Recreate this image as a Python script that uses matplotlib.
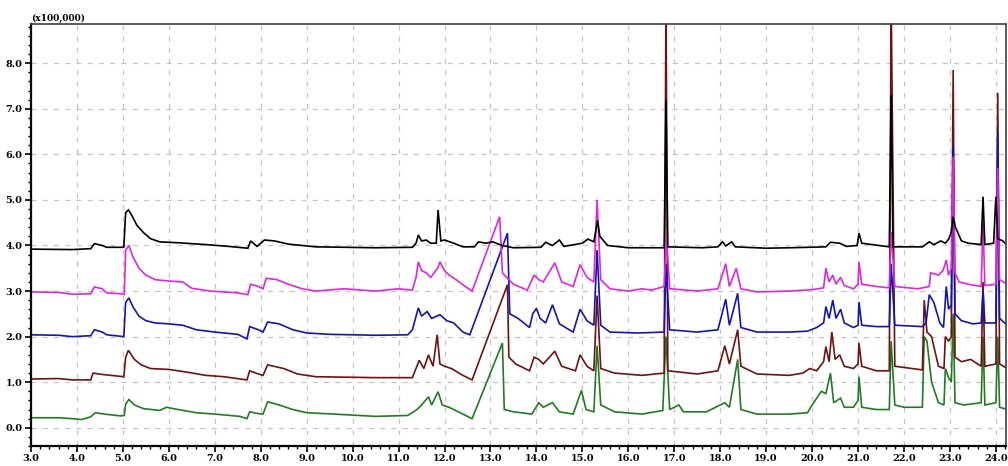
import matplotlib
matplotlib.use("Agg")
import matplotlib.pyplot as plt
from matplotlib.ticker import MultipleLocator

# (retention time [min], intensity [x100,000]) breakpoints
black = [(3.0, 3.92), (3.9, 3.91), (4.3, 3.93), (4.38, 4.04), (4.55, 4.0), (4.65, 3.96), (5.02, 3.96),
         (5.06, 4.72), (5.12, 4.78), (5.2, 4.65), (5.3, 4.45), (5.45, 4.28), (5.6, 4.15), (5.8, 4.08),
         (6.2, 4.06), (6.8, 4.02), (7.3, 3.98), (7.72, 3.94), (7.78, 4.1), (7.92, 3.98), (8.08, 4.12),
         (8.3, 4.1), (8.6, 4.03), (9.2, 3.97), (10.5, 3.95), (11.3, 3.96), (11.38, 4.05), (11.43, 4.23),
         (11.5, 4.1), (11.6, 4.12), (11.7, 4.05), (11.82, 4.05), (11.86, 4.78), (11.92, 4.1), (12.0, 4.12),
         (12.2, 4.05), (12.4, 3.97), (12.65, 3.97), (12.74, 4.08), (12.9, 4.05), (13.05, 4.08), (13.25, 4.0),
         (13.5, 3.95), (14.1, 3.96), (14.2, 4.07), (14.35, 4.0), (14.5, 4.12), (14.6, 3.98), (15.0, 4.05),
         (15.12, 4.14), (15.25, 4.08), (15.33, 4.55), (15.38, 4.2), (15.55, 4.0), (16.0, 3.95), (16.78, 3.95),
         (16.82, 7.2), (16.86, 3.97), (17.6, 3.95), (17.95, 3.97), (18.05, 4.08), (18.12, 3.99), (18.25, 4.08),
         (18.33, 3.97), (19.0, 3.94), (19.5, 3.95), (20.3, 3.97), (20.4, 4.07), (20.6, 4.05), (20.75, 3.98),
         (20.98, 4.0), (21.02, 4.27), (21.08, 4.05), (21.3, 4.02), (21.68, 3.97), (21.72, 7.3), (21.76, 3.97),
         (22.4, 3.97), (22.55, 4.08), (22.65, 4.02), (22.8, 4.1), (22.9, 4.05), (22.98, 4.15), (23.03, 4.3),
         (23.07, 4.63), (23.12, 4.4), (23.25, 4.1), (23.4, 4.05), (23.68, 4.02), (23.72, 5.07), (23.76, 4.02),
         (23.95, 4.05), (24.0, 5.07), (24.04, 4.15), (24.15, 4.1), (24.25, 4.0)]

magenta = [(3.0, 2.98), (3.6, 2.97), (3.9, 2.93), (4.3, 2.94), (4.38, 3.09), (4.55, 3.05), (4.65, 2.96),
           (4.95, 2.94), (5.03, 2.93), (5.06, 3.9), (5.13, 4.0), (5.22, 3.75), (5.35, 3.5), (5.5, 3.35),
           (5.7, 3.25), (6.0, 3.22), (6.3, 3.2), (6.5, 3.06), (6.9, 3.0), (7.5, 2.96), (7.72, 2.92), (7.78, 3.15),
           (7.95, 3.1), (8.05, 3.05), (8.12, 3.28), (8.35, 3.25), (8.6, 3.15), (8.9, 3.05), (9.2, 3.0),
           (9.8, 3.05), (10.5, 3.0), (11.0, 3.05), (11.3, 3.02), (11.38, 3.3), (11.43, 3.64), (11.5, 3.45),
           (11.6, 3.4), (11.7, 3.3), (11.85, 3.5), (11.9, 3.64), (12.0, 3.45), (12.1, 3.35), (12.25, 3.25),
           (12.45, 3.1), (12.6, 3.0), (13.2, 4.63), (13.26, 3.4), (13.35, 3.3), (13.5, 3.15), (13.8, 3.02),
           (13.95, 3.35), (14.05, 3.25), (14.15, 3.2), (14.4, 3.62), (14.55, 3.2), (14.8, 3.1), (14.95, 3.58),
           (15.1, 3.3), (15.25, 3.2), (15.32, 5.0), (15.4, 3.25), (15.6, 3.05), (16.0, 3.0), (16.3, 3.05),
           (16.5, 3.02), (16.78, 3.1), (16.83, 4.2), (16.9, 3.05), (17.5, 3.0), (17.95, 3.05), (18.12, 3.6),
           (18.2, 3.1), (18.35, 3.5), (18.45, 3.05), (18.8, 2.98), (19.5, 3.0), (20.0, 3.03), (20.25, 3.07),
           (20.3, 3.5), (20.37, 3.2), (20.45, 3.35), (20.52, 3.15), (20.62, 3.3), (20.7, 3.12), (20.9, 3.05),
           (21.0, 3.15), (21.02, 3.64), (21.08, 3.15), (21.4, 3.1), (21.68, 3.07), (21.72, 4.3), (21.8, 3.1),
           (22.3, 3.05), (22.55, 3.1), (22.58, 3.4), (22.75, 3.35), (22.85, 3.45), (22.92, 3.68), (22.97, 3.35),
           (23.03, 3.5), (23.07, 5.95), (23.11, 3.4), (23.2, 3.2), (23.4, 3.15), (23.68, 3.1), (23.72, 4.5),
           (23.76, 3.12), (24.0, 3.15), (24.04, 5.7), (24.08, 3.25), (24.25, 3.15)]

blue = [(3.0, 2.04), (3.6, 2.03), (3.9, 2.0), (4.3, 2.02), (4.38, 2.15), (4.55, 2.1), (4.65, 2.04), (5.02, 2.0),
        (5.06, 2.75), (5.13, 2.85), (5.22, 2.65), (5.35, 2.45), (5.5, 2.35), (5.7, 2.3), (6.0, 2.28),
        (6.3, 2.25), (6.6, 2.15), (7.0, 2.1), (7.5, 2.05), (7.7, 1.95), (7.76, 2.22), (7.95, 2.15), (8.05, 2.1),
        (8.15, 2.32), (8.4, 2.28), (8.7, 2.15), (9.0, 2.08), (9.5, 2.05), (10.5, 2.03), (11.2, 2.04),
        (11.3, 2.15), (11.43, 2.63), (11.5, 2.45), (11.62, 2.55), (11.72, 2.4), (11.9, 2.48), (12.05, 2.35),
        (12.2, 2.3), (12.4, 2.1), (12.55, 2.04), (13.37, 4.27), (13.42, 2.5), (13.6, 2.4), (13.85, 2.2),
        (13.92, 2.5), (14.0, 2.62), (14.08, 2.4), (14.2, 2.3), (14.35, 2.7), (14.5, 2.28), (14.8, 2.1),
        (14.95, 2.6), (15.1, 2.35), (15.25, 2.25), (15.32, 3.9), (15.4, 2.25), (15.6, 2.1), (16.2, 2.08),
        (16.78, 2.1), (16.82, 3.6), (16.9, 2.15), (17.5, 2.1), (17.95, 2.15), (18.12, 2.82), (18.2, 2.25),
        (18.38, 2.95), (18.45, 2.2), (18.8, 2.1), (19.5, 2.1), (19.9, 2.12), (20.1, 2.2), (20.25, 2.3),
        (20.3, 2.66), (20.37, 2.4), (20.45, 2.8), (20.52, 2.4), (20.62, 2.6), (20.7, 2.3), (20.9, 2.2),
        (21.0, 2.25), (21.02, 2.76), (21.08, 2.25), (21.4, 2.22), (21.68, 2.22), (21.72, 3.6), (21.8, 2.25),
        (22.4, 2.22), (22.48, 2.3), (22.55, 2.92), (22.65, 2.75), (22.78, 2.3), (22.86, 2.2), (22.92, 3.1),
        (22.97, 2.6), (23.03, 2.7), (23.07, 6.2), (23.11, 2.5), (23.25, 2.35), (23.5, 2.28), (23.68, 2.3),
        (23.72, 3.0), (23.76, 2.3), (24.0, 2.3), (24.04, 6.5), (24.08, 2.4), (24.25, 2.25)]

darkred = [(3.0, 1.07), (3.6, 1.08), (3.9, 1.05), (4.3, 1.05), (4.35, 1.2), (4.55, 1.17), (5.02, 1.12),
           (5.06, 1.55), (5.12, 1.7), (5.25, 1.5), (5.4, 1.38), (5.6, 1.3), (6.0, 1.28), (6.4, 1.22), (6.8, 1.15),
           (7.2, 1.12), (7.7, 1.05), (7.76, 1.25), (7.95, 1.18), (8.05, 1.15), (8.15, 1.38), (8.5, 1.3),
           (8.8, 1.18), (9.2, 1.12), (10.5, 1.1), (11.3, 1.1), (11.45, 1.48), (11.55, 1.3), (11.65, 1.6),
           (11.75, 1.35), (11.84, 2.04), (11.9, 1.4), (12.0, 1.35), (12.15, 1.3), (12.4, 1.15), (12.6, 1.05),
           (13.37, 3.14), (13.4, 1.55), (13.55, 1.4), (13.85, 1.25), (13.95, 1.55), (14.05, 1.5), (14.15, 1.4),
           (14.4, 1.68), (14.55, 1.35), (14.85, 1.25), (14.95, 1.6), (15.1, 1.35), (15.25, 1.25), (15.32, 2.9),
           (15.4, 1.3), (15.7, 1.2), (16.3, 1.15), (16.78, 1.2), (16.82, 9.5), (16.86, 1.25), (17.5, 1.18),
           (17.95, 1.25), (18.1, 1.8), (18.2, 1.4), (18.38, 2.15), (18.45, 1.35), (18.8, 1.18), (19.5, 1.15),
           (19.8, 1.2), (19.95, 1.3), (20.1, 1.25), (20.25, 1.45), (20.3, 1.78), (20.37, 1.45), (20.43, 2.1),
           (20.5, 1.5), (20.6, 1.6), (20.7, 1.35), (20.9, 1.3), (21.0, 1.4), (21.02, 1.86), (21.08, 1.35),
           (21.4, 1.25), (21.68, 1.25), (21.72, 9.5), (21.8, 1.35), (22.4, 1.27), (22.44, 2.8), (22.5, 2.1),
           (22.6, 2.0), (22.75, 1.35), (22.87, 1.3), (22.9, 2.0), (22.97, 1.9), (23.03, 2.0), (23.07, 7.85),
           (23.11, 1.55), (23.25, 1.45), (23.45, 1.5), (23.68, 1.35), (23.72, 3.2), (23.76, 1.35), (24.0, 1.4),
           (24.04, 7.35), (24.08, 1.4), (24.25, 1.3)]

green = [(3.0, 0.22), (3.6, 0.22), (3.9, 0.2), (4.1, 0.18), (4.3, 0.24), (4.4, 0.33), (4.6, 0.3), (4.95, 0.26),
         (5.03, 0.27), (5.06, 0.52), (5.13, 0.62), (5.25, 0.5), (5.45, 0.42), (5.8, 0.38), (5.95, 0.45),
         (6.2, 0.4), (6.6, 0.33), (7.0, 0.3), (7.55, 0.25), (7.7, 0.2), (7.76, 0.35), (7.95, 0.31), (8.05, 0.3),
         (8.15, 0.57), (8.4, 0.5), (8.7, 0.4), (9.0, 0.33), (9.6, 0.3), (10.5, 0.25), (11.2, 0.27), (11.4, 0.4),
         (11.5, 0.5), (11.65, 0.68), (11.72, 0.5), (11.86, 0.79), (11.95, 0.5), (12.1, 0.45), (12.3, 0.35),
         (12.6, 0.2), (13.26, 1.86), (13.3, 0.4), (13.5, 0.35), (13.9, 0.3), (14.05, 0.55), (14.15, 0.45),
         (14.35, 0.55), (14.5, 0.35), (14.8, 0.3), (14.98, 0.82), (15.08, 0.4), (15.25, 0.35), (15.32, 1.8),
         (15.4, 0.5), (15.7, 0.35), (16.3, 0.3), (16.75, 0.38), (16.82, 2.0), (16.9, 0.4), (17.1, 0.5),
         (17.2, 0.35), (17.7, 0.35), (18.1, 0.55), (18.2, 0.45), (18.38, 1.5), (18.45, 0.4), (18.8, 0.3),
         (19.5, 0.3), (19.9, 0.33), (20.0, 0.5), (20.2, 0.8), (20.3, 0.75), (20.4, 1.2), (20.47, 0.55),
         (20.62, 0.65), (20.7, 0.45), (20.9, 0.45), (21.0, 0.6), (21.02, 1.12), (21.08, 0.45), (21.4, 0.4),
         (21.68, 0.4), (21.72, 1.9), (21.8, 0.5), (22.0, 0.45), (22.4, 0.45), (22.44, 2.0), (22.5, 1.9),
         (22.6, 1.0), (22.75, 0.55), (22.87, 0.5), (22.9, 1.3), (22.97, 1.1), (23.03, 1.0), (23.07, 2.5),
         (23.11, 0.55), (23.3, 0.5), (23.68, 0.55), (23.72, 2.0), (23.76, 0.5), (24.0, 0.55), (24.04, 2.0),
         (24.08, 0.45), (24.25, 0.4)]

# drawing order: later traces are drawn on top
traces = [(green, "#237a23"), (darkred, "#6e1212"), (blue, "#1414b4"),
          (magenta, "#dc28dc"), (black, "#000000")]

xticks = [3.0 + i for i in range(22)]
yticks = [0.0, 1.0, 2.0, 3.0, 4.0, 5.0, 6.0, 7.0, 8.0]


def main():
    fig = plt.figure(figsize=(10.08, 4.66), dpi=100)
    ax = fig.add_axes([31 / 1008, 20 / 466, 975 / 1008, 422 / 466])

    for pts, c in traces:
        t, v = zip(*pts)
        ax.plot(t, v, color=c, lw=1.2, solid_joinstyle="miter")

    ax.set_xlim(3.0, 24.22)
    ax.set_ylim(-0.4, 8.86)
    ax.set_xticks(xticks)
    ax.set_yticks(yticks)
    ax.xaxis.set_minor_locator(MultipleLocator(0.2))
    ax.yaxis.set_minor_locator(MultipleLocator(0.2))
    ax.set_xticklabels(["%.1f" % x for x in xticks])
    ax.set_yticklabels(["%.1f" % y for y in yticks])
    ax.tick_params(which="major", direction="out", length=4, width=1.2,
                   labelsize=7, pad=2)
    ax.tick_params(which="minor", direction="out", length=2.5, width=1.0)
    for lab in ax.get_xticklabels() + ax.get_yticklabels():
        lab.set_family("DejaVu Serif")
        lab.set_fontweight("bold")

    ax.grid(True, which="major", color="#c4c4c4", linestyle=(0, (4, 5)), lw=0.9)
    ax.set_axisbelow(True)

    for side in ["left", "bottom"]:
        ax.spines[side].set_linewidth(1.6)
    for side in ["top", "right"]:
        ax.spines[side].set_linewidth(1.2)
        ax.spines[side].set_color("#404040")

    ax.text(0.0, 1.002, "(x100,000)", transform=ax.transAxes, ha="left", va="bottom",
            fontsize=6.5, family="DejaVu Serif", fontweight="bold")

    plt.savefig("out.png", dpi=100)


if __name__ == "__main__":
    main()
